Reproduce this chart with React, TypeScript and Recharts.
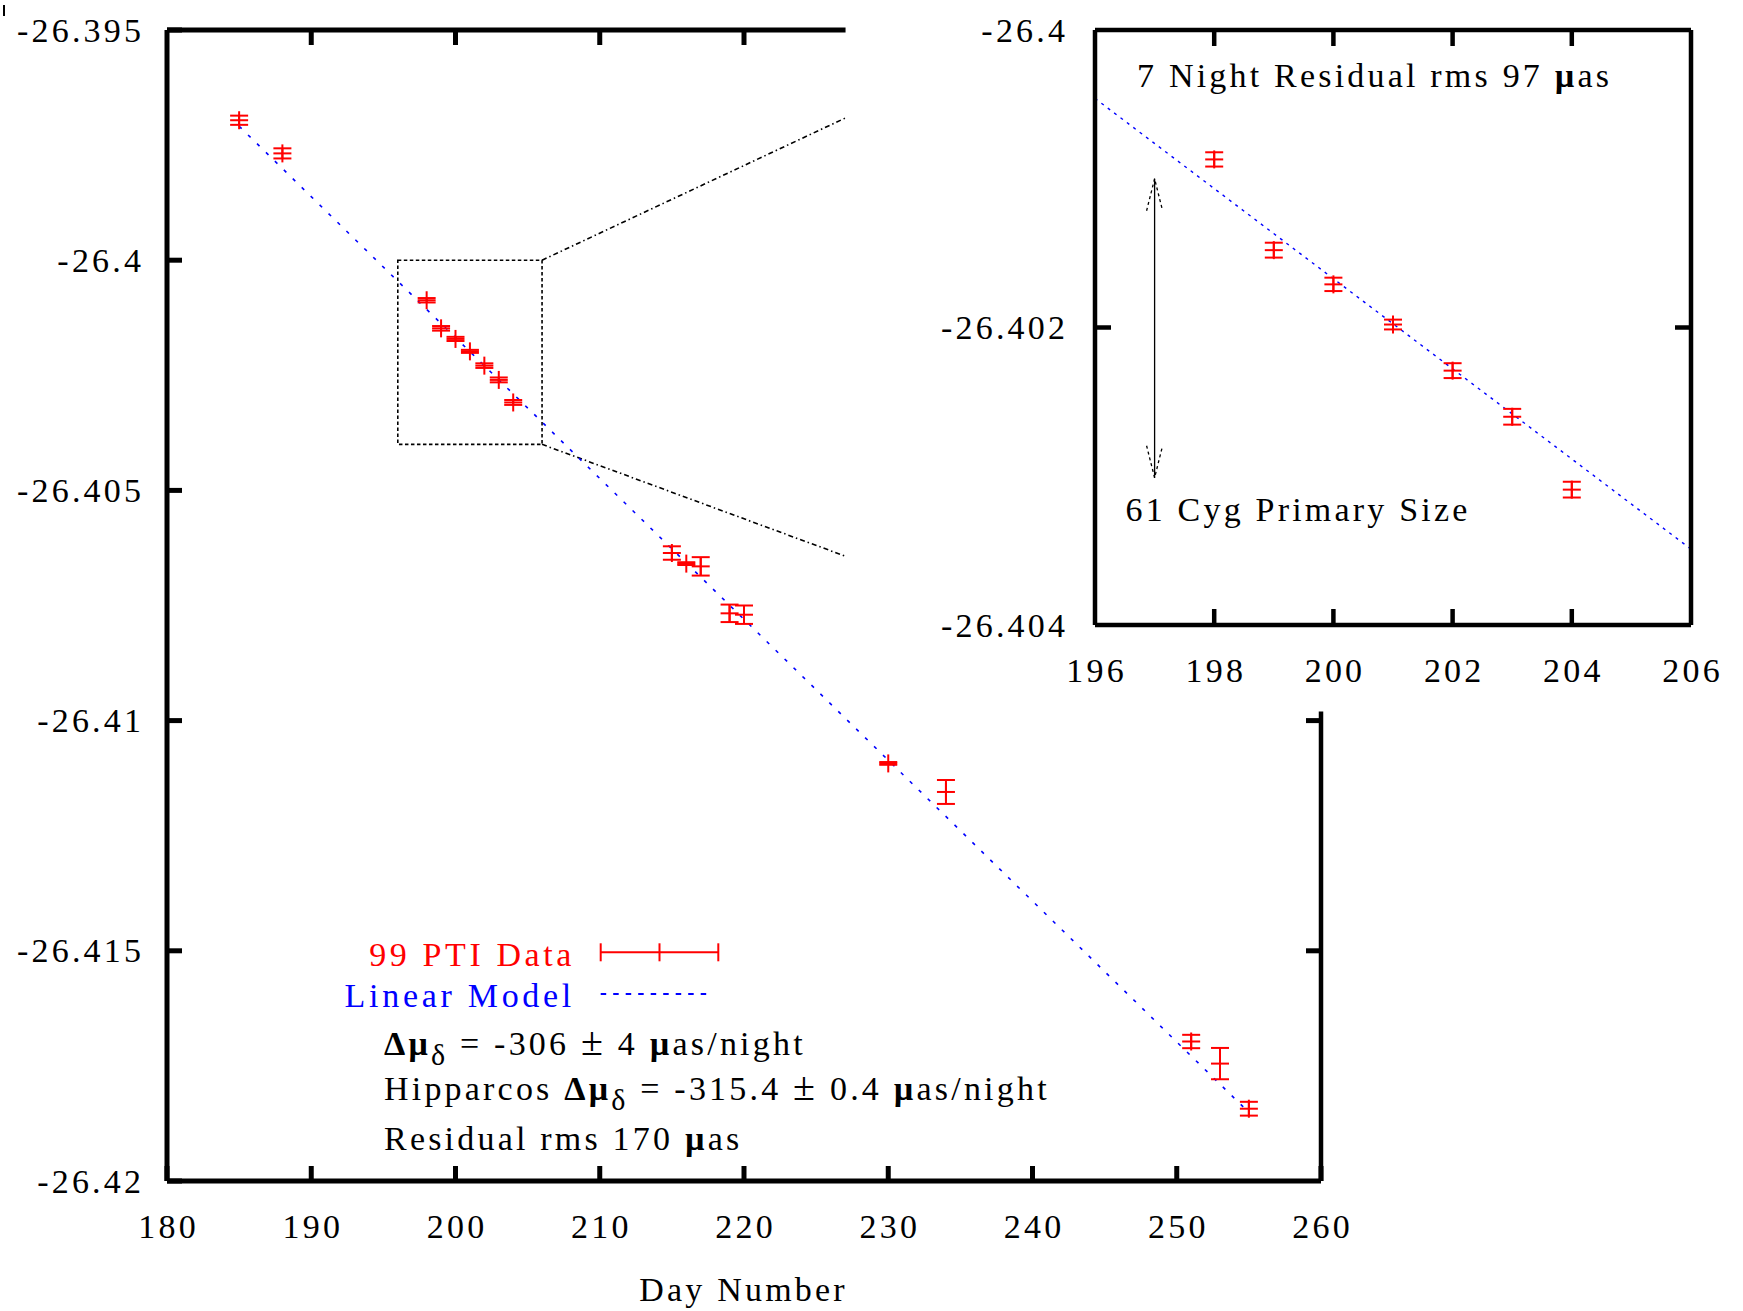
import React from 'react';
import {
  ComposedChart,
  Scatter,
  Line,
  XAxis,
  YAxis,
  ErrorBar,
  ReferenceArea,
  ReferenceLine,
} from 'recharts';

// 61 Cyg A declination per night, PTI 1999 (day number, degrees, 1-sigma)
const days = [185, 188, 198, 199, 200, 201, 202, 203, 204, 215, 216, 217, 219, 220, 230, 234, 251, 253, 255];
const decs = [
  -26.39696, -26.39768, -26.40087, -26.40148, -26.40171, -26.40198, -26.40229, -26.4026, -26.40309,
  -26.40636, -26.40659, -26.40665, -26.40767, -26.4077, -26.41093, -26.41155, -26.41697, -26.41745, -26.41843,
];
const errs = [
  0.0001, 0.00011, 0.000048, 0.00005, 0.000045, 0.000033, 0.00005, 0.000053, 0.000053,
  0.000146, 0.00003, 0.0002, 0.00019, 0.0002, 0.00003, 0.00026, 0.000145, 0.00034, 0.00015,
];

// linear model end points
const modelDays = [185, 255];
const modelDecs = [-26.39709, -26.41851];
const insetModelDays = [196, 206];
const insetModelDecs = [-26.40046, -26.40349];

// axes
const mainXTicks = [180, 190, 200, 210, 220, 230, 240, 250, 260];
const mainTopTicks = [190, 200, 210, 220];
const mainYTicks = [-26.395, -26.4, -26.405, -26.41, -26.415, -26.42];
const mainRightTicks = [-26.41, -26.415];
const insetXTicks = [196, 198, 200, 202, 204, 206];
const insetInnerXTicks = [198, 200, 202, 204];
const insetYTicks = [-26.4, -26.402, -26.404];
const insetInnerYTicks = [-26.402];

// zoom box + connectors + partial frame (main plot coords)
const zoomBoxX = [196, 206];
const zoomBoxY = [-26.404, -26.4];
const connectorEndX = 227.04;
const connectorEndY = [-26.39691, -26.40643];
const topFrameEnd = 227.04;
const rightFrameStart = -26.4098;

// primary size arrow (inset coords)
const arrowDay = 197;
const arrowDecs = [-26.401, -26.40301];

const points = days.map((d, i) => ({ day: d, dec: decs[i], err: errs[i] }));
const insetPoints = points.filter((p) => p.day > 196 && p.day < 206);
const model = modelDays.map((d, i) => ({ day: d, dec: modelDecs[i] }));
const insetModel = insetModelDays.map((d, i) => ({ day: d, dec: insetModelDecs[i] }));

const FONT = '"Liberation Serif", "Times New Roman", serif';
const FS = 34;
const LS = 3.2;
const RED = '#ff0000';
const BLUE = '#0000ff';

type TickOpts = {
  side: 'bottom' | 'top' | 'left' | 'right';
  len: number;
  sw: number;
  gap?: number;
  marks?: number[];
};

const makeTick = (o: TickOpts) => (p: any) => {
  const v = p.payload.value;
  const mark = !o.marks || o.marks.includes(v);
  const { x, y } = p;
  let line = null;
  let label = null;
  if (o.side === 'bottom') {
    if (mark) line = <line x1={x} x2={x} y1={y} y2={y - o.len} stroke="#000" strokeWidth={o.sw} />;
    if (o.gap)
      label = (
        <text x={x + LS / 2} y={y + o.gap} textAnchor="middle" fontFamily={FONT} fontSize={FS} letterSpacing={LS} fill="#000">
          {v}
        </text>
      );
  } else if (o.side === 'top') {
    if (mark) line = <line x1={x} x2={x} y1={y} y2={y + o.len} stroke="#000" strokeWidth={o.sw} />;
  } else if (o.side === 'left') {
    if (mark) line = <line x1={x} x2={x + o.len} y1={y} y2={y} stroke="#000" strokeWidth={o.sw} />;
    if (o.gap)
      label = (
        <text x={x - o.gap + LS} y={y + 11.5} textAnchor="end" fontFamily={FONT} fontSize={FS} letterSpacing={LS} fill="#000">
          {v}
        </text>
      );
  } else {
    if (mark) line = <line x1={x} x2={x - o.len} y1={y} y2={y} stroke="#000" strokeWidth={o.sw} />;
  }
  return (
    <g>
      {line}
      {label}
    </g>
  );
};

const plusShape = (p: any) => (
  <g>
    <line x1={p.cx - 9} x2={p.cx + 9} y1={p.cy} y2={p.cy} stroke={RED} strokeWidth={2} />
    <line x1={p.cx} x2={p.cx} y1={p.cy - 9} y2={p.cy + 9} stroke={RED} strokeWidth={2} />
  </g>
);

const arrowShape = (p: any) => {
  const x = p.x1;
  const top = Math.min(p.y1, p.y2);
  const bot = Math.max(p.y1, p.y2);
  return (
    <g>
      <line x1={x} x2={x} y1={top} y2={bot} stroke="#000" strokeWidth={1.3} />
      <polyline
        points={`${x - 8},${top + 32} ${x},${top} ${x + 8},${top + 32}`}
        fill="none"
        stroke="#000"
        strokeWidth={1.3}
        strokeDasharray="3 3"
      />
      <polyline
        points={`${x - 8},${bot - 32} ${x},${bot} ${x + 8},${bot - 32}`}
        fill="none"
        stroke="#000"
        strokeWidth={1.3}
        strokeDasharray="3 3"
      />
    </g>
  );
};

const txt = { fontFamily: FONT, fontSize: FS, letterSpacing: LS } as const;

function MainChart() {
  const axis = { stroke: '#000', strokeWidth: 5 };
  return (
    <ComposedChart width={1743} height={1311} margin={{ top: 29, right: 421, bottom: 10, left: 7 }}>
      <XAxis
        type="number"
        dataKey="day"
        domain={[180, 260]}
        ticks={mainXTicks}
        interval={0}
        allowDataOverflow
        height={120}
        tickSize={0}
        tickMargin={0}
        tickLine={false}
        axisLine={axis}
        tick={makeTick({ side: 'bottom', len: 15, sw: 5, gap: 57 })}
      />
      <XAxis
        xAxisId="top"
        orientation="top"
        type="number"
        dataKey="day"
        domain={[180, 260]}
        ticks={mainTopTicks}
        interval={0}
        allowDataOverflow
        height={1}
        tickSize={0}
        tickMargin={0}
        tickLine={false}
        axisLine={false}
        tick={makeTick({ side: 'top', len: 15, sw: 5 })}
      />
      <YAxis
        type="number"
        dataKey="dec"
        domain={[-26.42, -26.395]}
        ticks={mainYTicks}
        interval={0}
        allowDataOverflow
        width={160}
        tickSize={0}
        tickMargin={0}
        tickLine={false}
        axisLine={axis}
        tick={makeTick({ side: 'left', len: 15, sw: 5, gap: 26 })}
      />
      <YAxis
        yAxisId="right"
        orientation="right"
        type="number"
        domain={[-26.42, -26.395]}
        ticks={mainRightTicks}
        interval={0}
        allowDataOverflow
        width={1}
        tickSize={0}
        tickMargin={0}
        tickLine={false}
        axisLine={false}
        tick={makeTick({ side: 'right', len: 15, sw: 5 })}
      />
      <ReferenceLine
        segment={[{ x: 180, y: -26.395 }, { x: topFrameEnd, y: -26.395 }]}
        stroke="#000"
        strokeWidth={5}
        ifOverflow="visible"
      />
      <ReferenceLine
        segment={[{ x: 260, y: rightFrameStart }, { x: 260, y: -26.42 }]}
        stroke="#000"
        strokeWidth={4.5}
        ifOverflow="visible"
      />
      <ReferenceArea
        x1={zoomBoxX[0]}
        x2={zoomBoxX[1]}
        y1={zoomBoxY[0]}
        y2={zoomBoxY[1]}
        fill="none"
        stroke="#000"
        strokeWidth={1.6}
        strokeDasharray="3.5 2.5"
        ifOverflow="visible"
      />
      <ReferenceLine
        segment={[{ x: zoomBoxX[1], y: zoomBoxY[1] }, { x: connectorEndX, y: connectorEndY[0] }]}
        stroke="#000"
        strokeWidth={1.6}
        strokeDasharray="5 3 1.5 3"
        ifOverflow="visible"
      />
      <ReferenceLine
        segment={[{ x: zoomBoxX[1], y: zoomBoxY[0] }, { x: connectorEndX, y: connectorEndY[1] }]}
        stroke="#000"
        strokeWidth={1.6}
        strokeDasharray="5 3 1.5 3"
        ifOverflow="visible"
      />
      <Line
        data={model}
        dataKey="dec"
        type="linear"
        stroke={BLUE}
        strokeWidth={1.6}
        strokeDasharray="3.5 9"
        dot={false}
        activeDot={false}
        isAnimationActive={false}
      />
      <Scatter data={points} dataKey="dec" shape={plusShape} isAnimationActive={false}>
        <ErrorBar dataKey="err" direction="y" width={9} stroke={RED} strokeWidth={2} isAnimationActive={false} />
      </Scatter>
    </ComposedChart>
  );
}

function InsetChart() {
  const axis = { stroke: '#000', strokeWidth: 4.5 };
  return (
    <ComposedChart width={843} height={700} margin={{ top: 29, right: 51, bottom: 15, left: 15 }}>
      <XAxis
        type="number"
        dataKey="day"
        domain={[196, 206]}
        ticks={insetXTicks}
        interval={0}
        allowDataOverflow
        height={60}
        tickSize={0}
        tickMargin={0}
        tickLine={false}
        axisLine={axis}
        tick={makeTick({ side: 'bottom', len: 16, sw: 4.5, gap: 57, marks: insetInnerXTicks })}
      />
      <XAxis
        xAxisId="top"
        orientation="top"
        type="number"
        dataKey="day"
        domain={[196, 206]}
        ticks={insetInnerXTicks}
        interval={0}
        allowDataOverflow
        height={1}
        tickSize={0}
        tickMargin={0}
        tickLine={false}
        axisLine={axis}
        tick={makeTick({ side: 'top', len: 16, sw: 4.5 })}
      />
      <YAxis
        type="number"
        dataKey="dec"
        domain={[-26.404, -26.4]}
        ticks={insetYTicks}
        interval={0}
        allowDataOverflow
        width={180}
        tickSize={0}
        tickMargin={0}
        tickLine={false}
        axisLine={axis}
        tick={makeTick({ side: 'left', len: 16, sw: 4.5, gap: 30, marks: insetInnerYTicks })}
      />
      <YAxis
        yAxisId="right"
        orientation="right"
        type="number"
        domain={[-26.404, -26.4]}
        ticks={insetInnerYTicks}
        interval={0}
        allowDataOverflow
        width={1}
        tickSize={0}
        tickMargin={0}
        tickLine={false}
        axisLine={axis}
        tick={makeTick({ side: 'right', len: 16, sw: 4.5 })}
      />
      <Line
        data={insetModel}
        dataKey="dec"
        type="linear"
        stroke={BLUE}
        strokeWidth={1.4}
        strokeDasharray="3 5"
        dot={false}
        activeDot={false}
        isAnimationActive={false}
      />
      <ReferenceLine
        segment={[{ x: arrowDay, y: arrowDecs[0] }, { x: arrowDay, y: arrowDecs[1] }]}
        stroke="#000"
        shape={arrowShape}
        ifOverflow="visible"
      />
      <Scatter data={insetPoints} dataKey="dec" shape={plusShape} isAnimationActive={false}>
        <ErrorBar dataKey="err" direction="y" width={9} stroke={RED} strokeWidth={2} isAnimationActive={false} />
      </Scatter>
    </ComposedChart>
  );
}

function Annotations() {
  const pm = { fontSize: 40 };
  return (
    <svg width={1743} height={1311} style={{ position: 'absolute', left: 0, top: 0, pointerEvents: 'none' }}>
      <text x={743.6} y={1301} textAnchor="middle" {...txt}>
        Day Number
      </text>
      {/* legend */}
      <text x={575} y={966} textAnchor="end" fill={RED} {...txt} letterSpacing={3.6}>
        99 PTI Data
      </text>
      <line x1={600.7} x2={718.3} y1={952.3} y2={952.3} stroke={RED} strokeWidth={2} />
      <line x1={600.7} x2={600.7} y1={943.3} y2={961.3} stroke={RED} strokeWidth={2} />
      <line x1={659.5} x2={659.5} y1={943.3} y2={961.3} stroke={RED} strokeWidth={2} />
      <line x1={718.3} x2={718.3} y1={943.3} y2={961.3} stroke={RED} strokeWidth={2} />
      <text x={575} y={1006.5} textAnchor="end" fill={BLUE} {...txt} letterSpacing={3.7}>
        Linear Model
      </text>
      <line x1={600.7} x2={713} y1={994} y2={994} stroke={BLUE} strokeWidth={2} strokeDasharray="5.5 7" />
      {/* fit results */}
      <text x={384} y={1055} fill="#000" {...txt}>
        <tspan fontWeight="bold">Δμ</tspan>
        <tspan dy={10} fontSize={30}>δ</tspan>
        <tspan dy={-10}> = -306 </tspan>
        <tspan {...pm}>±</tspan>
        <tspan> 4 </tspan>
        <tspan fontWeight="bold">µ</tspan>
        <tspan>as/night</tspan>
      </text>
      <text x={384} y={1099.5} fill="#000" {...txt}>
        <tspan>Hipparcos </tspan>
        <tspan fontWeight="bold">Δμ</tspan>
        <tspan dy={10} fontSize={30}>δ</tspan>
        <tspan dy={-10}> = -315.4 </tspan>
        <tspan {...pm}>±</tspan>
        <tspan> 0.4 </tspan>
        <tspan fontWeight="bold">µ</tspan>
        <tspan>as/night</tspan>
      </text>
      <text x={384} y={1149.5} fill="#000" {...txt}>
        <tspan>Residual rms 170 </tspan>
        <tspan fontWeight="bold">µ</tspan>
        <tspan>as</tspan>
      </text>
      {/* inset text */}
      <text x={1137} y={87} fill="#000" {...txt}>
        <tspan>7 Night Residual rms 97 </tspan>
        <tspan fontWeight="bold">µ</tspan>
        <tspan>as</tspan>
      </text>
      <text x={1125.5} y={520.5} fill="#000" {...txt}>
        61 Cyg Primary Size
      </text>
    </svg>
  );
}

export default function App() {
  return (
    <div
      style={{
        position: 'absolute',
        left: 0,
        top: 0,
        width: 1743,
        height: 1311,
        background: '#fff',
        overflow: 'hidden',
      }}
    >
      <div style={{ position: 'absolute', left: 3, top: 5, width: 2, height: 11, background: '#000' }} />
      <div style={{ position: 'absolute', left: 0, top: 0 }}>
        <MainChart />
      </div>
      <div style={{ position: 'absolute', left: 900, top: 0 }}>
        <InsetChart />
      </div>
      <Annotations />
    </div>
  );
}
